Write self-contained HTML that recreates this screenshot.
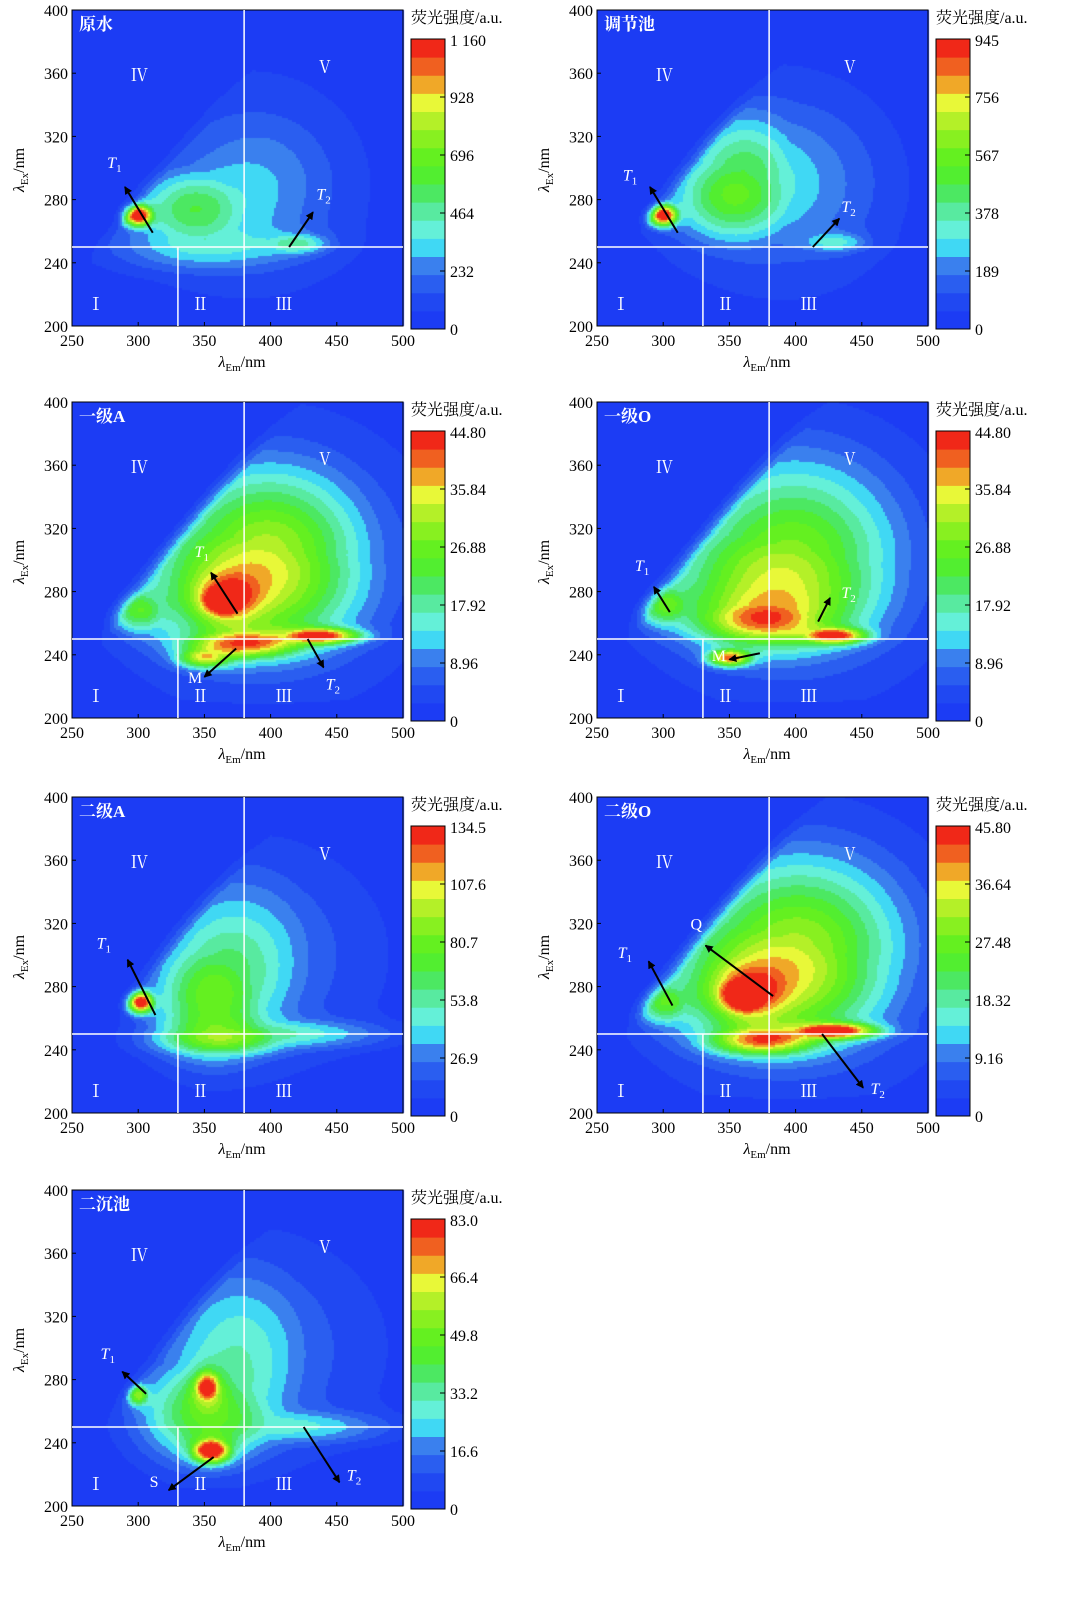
<!DOCTYPE html>
<html><head><meta charset="utf-8"><style>
html,body{margin:0;padding:0;background:#fff;width:1081px;height:1600px;overflow:hidden}
#cv{position:absolute;left:0;top:0}
#sv{position:absolute;left:0;top:0}
text{font-family:"Liberation Serif","Noto Serif CJK SC",serif}
</style></head><body>
<canvas id="cv" width="1081" height="1600"></canvas>
<svg id="sv" width="1081" height="1600" xmlns="http://www.w3.org/2000/svg"></svg>
<script>
// ---- data ----
const panelTitles=["原水","调节池","一级A","一级O","二级A","二级O","二沉池"];
const panelMax=[1160,945,44.80,44.80,134.5,45.80,83.0];
const tickLabels=[["1 160","928","696","464","232","0"],["945","756","567","378","189","0"],["44.80","35.84","26.88","17.92","8.96","0"],["44.80","35.84","26.88","17.92","8.96","0"],["134.5","107.6","80.7","53.8","26.9","0"],["45.80","36.64","27.48","18.32","9.16","0"],["83.0","66.4","49.8","33.2","16.6","0"]];
const xTicks=[250,300,350,400,450,500];
const yTicks=[200,240,280,320,360,400];
// peaks: [em, ex, relative amplitude, sigmaEm, sigmaEx]
const peaks1=[[300,270,1.0,8,5],[340,275,0.4,30,16],[390,290,0.2,45,35],[420,252,0.3,18,5],[350,250,0.24,55,12],[380,290,0.12,70,55]];
const peaks2=[[300,270,1.0,8,5],[350,280,0.42,32,20],[360,305,0.3,30,25],[410,290,0.17,45,40],[430,253,0.27,18,5],[380,290,0.12,75,55]];
const peaks3=[[365,275,0.92,16,10],[438,252,0.84,22,4],[380,247,0.74,32,7],[350,238,0.6,15,5],[385,285,0.6,55,32],[400,315,0.45,50,35],[300,268,0.45,15,10],[400,300,0.17,85,65]];
const peaks4=[[350,238,0.78,12,4],[430,252,0.8,18,4],[375,262,0.66,38,12],[300,272,0.45,15,10],[385,285,0.55,55,30],[400,315,0.4,55,40],[400,300,0.16,85,65]];
const peaks5=[[302,270,1.0,7,5],[355,272,0.48,30,26],[360,247,0.46,35,8],[375,300,0.3,42,38],[430,250,0.26,45,7],[400,300,0.12,75,55]];
const peaks6=[[362,275,0.92,18,11],[430,252,0.87,24,4],[375,246,0.74,30,7],[300,270,0.45,15,10],[385,285,0.6,55,32],[405,315,0.44,55,38],[400,300,0.17,85,65]];
const peaks7=[[355,235,1.0,11,6],[352,275,0.8,8,8],[300,270,0.58,6,5],[350,258,0.48,35,22],[375,300,0.3,40,38],[430,250,0.26,45,8],[400,300,0.12,75,55]];
const allPeaks=[peaks1,peaks2,peaks3,peaks4,peaks5,peaks6,peaks7];
// arrows: [emFrom, exFrom, emTo, exTo, label, labelEm, labelEx]
const arrows=[
 [[311,259,290,288,"T1",282,300],[414,250,432,272,"T2",440,280]],
 [[311,259,290,288,"T1",275,292],[413,250,433,268,"T2",440,272]],
 [[375,266,355,292,"T1",348,302],[374,244,350,226,"M",343,222],[428,250,440,232,"T2",447,218]],
 [[305,267,293,283,"T1",284,293],[373,241,350,237,"M",342,236],[417,261,426,276,"T2",440,276]],
 [[313,262,292,297,"T1",274,304],[0,0,0,0,"",0,0]],
 [[307,268,289,296,"T1",271,298],[383,274,332,306,"Q",325,316],[420,250,451,216,"T2",462,212]],
 [[306,271,288,285,"T1",277,293],[357,231,323,210,"S",312,212],[425,250,452,215,"T2",463,216]]
];
const colors=["#1c3cf4","#2048f2","#2a5ef0","#3a80ee","#40d8f4","#64f0d8","#58eaa0","#4ce862","#52ee30","#64f020","#88f020","#b4f028","#e8f838","#f0a828","#f06020","#f02818"];
// ---- layout ----
const pos=[[72,10],[597,10],[72,402],[597,402],[72,797],[597,797],[72,1190]];
const PW=331,PH=316;
const NS="http://www.w3.org/2000/svg";
const sv=document.getElementById('sv');
const ctx=document.getElementById('cv').getContext('2d');
function el(tag,attrs,parent,txt){const e=document.createElementNS(NS,tag);for(const k in attrs)e.setAttribute(k,attrs[k]);if(txt!==undefined)e.textContent=txt;(parent||sv).appendChild(e);return e;}
const defs=el('defs',{});
const mk=el('marker',{id:'ah',markerWidth:'8',markerHeight:'8',refX:'7',refY:'4',orient:'auto',markerUnits:'userSpaceOnUse'},defs);
el('path',{d:'M0,0 L8,4 L0,8 Z',fill:'#000'},mk);
function field(p,em,ex){
 if(ex>em-2)return 0;
 let s=0,m=0;for(const q of p){const a=(em-q[0])/q[3],b=(ex-q[1])/q[4];const v=q[2]*Math.exp(-0.5*(a*a+b*b));s+=v;if(v>m)m=v;}
 let v=m+0.45*(s-m);
 if(ex>em-25)v*=(em-2-ex)/23;
 if(ex<212)v*=Math.max(0,(ex-200)/12);
 return Math.min(v,0.999);
}
pos.forEach((pp,i)=>{
 const L=pp[0],T=pp[1];
 const sx=e=>L+(e-250)/250*PW, sy=x=>T+PH-(x-200)/200*PH;
 const g=el('g',{});
 
 
 const st=2;
 for(let px=0;px<PW;px+=st)for(let py=0;py<PH;py+=st){
  const em=250+(px+1)/PW*250, ex=400-(py+1)/PH*200;
  const v=field(allPeaks[i],em,ex);
  ctx.fillStyle=colors[Math.floor(v*16)];
  ctx.fillRect(L+px,T+py,st,st);
 }
 el('rect',{x:L,y:T,width:PW,height:PH,fill:'none',stroke:'#000','stroke-width':1},g);
 el('line',{x1:sx(380),y1:T,x2:sx(380),y2:T+PH,stroke:'#fff','stroke-width':1.5},g);
 el('line',{x1:L,y1:sy(250),x2:L+PW,y2:sy(250),stroke:'#fff','stroke-width':1.5},g);
 el('line',{x1:sx(330),y1:sy(250),x2:sx(330),y2:T+PH,stroke:'#fff','stroke-width':1.5},g);
 [["Ⅰ",268,210],["Ⅱ",347,210],["Ⅲ",410,210],["Ⅳ",301,355],["Ⅴ",441,360]].forEach(r=>{
  const t=el('text',{x:sx(r[1]),y:sy(r[2]),fill:'#fff','font-size':17,'text-anchor':'middle'},g,r[0]);
  
  
 });
 const tt=el('text',{x:L+7,y:T+20,fill:'#fff','font-size':17,'font-weight':'bold'},g,panelTitles[i]);
 
 
 arrows[i].forEach(a=>{
  if(!a[4])return;
  const ln=el('line',{x1:sx(a[0]),y1:sy(a[1]),x2:sx(a[2]),y2:sy(a[3]),stroke:'#000','stroke-width':2,'marker-end':'url(#ah)'},g);
  
  
  const t=el('text',{x:sx(a[5]),y:sy(a[6]),fill:'#fff','font-size':16,'text-anchor':'middle'},g);
  
  
  if(a[4].startsWith('T')){el('tspan',{'font-style':'italic'},t,'T');el('tspan',{'font-size':11,dy:4},t,a[4].slice(1));}
  else t.textContent=a[4];
 });
 xTicks.forEach(v=>{
  el('line',{x1:sx(v),y1:T+PH,x2:sx(v),y2:T+PH-4,stroke:'#000'},g);
  el('text',{x:sx(v),y:T+PH+20,'font-size':16,'text-anchor':'middle'},g,v);
 });
 yTicks.forEach(v=>{
  el('line',{x1:L,y1:sy(v),x2:L+4,y2:sy(v),stroke:'#000'},g);
  el('text',{x:L-4,y:sy(v)+6,'font-size':16,'text-anchor':'end'},g,v);
 });
 const xt=el('text',{x:L+170,y:T+PH+41,'font-size':16,'text-anchor':'middle'},g);
 
 
 el('tspan',{'font-style':'italic'},xt,'λ');el('tspan',{'font-size':11,dy:4},xt,'Em');el('tspan',{dy:-4},xt,'/nm');
 const yt=el('text',{transform:`translate(${L-48},${T+160}) rotate(-90)`,'font-size':16,'text-anchor':'middle'},g);
 
 
 el('tspan',{'font-style':'italic'},yt,'λ');el('tspan',{'font-size':11,dy:4},yt,'Ex');el('tspan',{dy:-4},yt,'/nm');
 const cx=L+339,cy=T+29,cw=34,ch=290;
 const cb=el('g',{},g);
 
 
 colors.forEach((c,k)=>{el('rect',{x:cx,y:cy+ch-(k+1)*ch/16,width:cw,height:ch/16+0.5,fill:c},cb);});
 el('rect',{x:cx,y:cy,width:cw,height:ch,fill:'none',stroke:'#000'},cb);
 tickLabels[i].forEach((lab,k)=>{
  const yy=cy+ch*k/5;
  el('line',{x1:cx+cw-5,y1:yy,x2:cx+cw,y2:yy,stroke:'#000'},cb);
  el('text',{x:cx+cw+5,y:yy+(k===0?7:6),'font-size':16},cb,lab);
 });
 const ct=el('text',{x:cx,y:T+13,'font-size':16},cb,'荧光强度/a.u.');
 
 
});
</script>
</body></html>
